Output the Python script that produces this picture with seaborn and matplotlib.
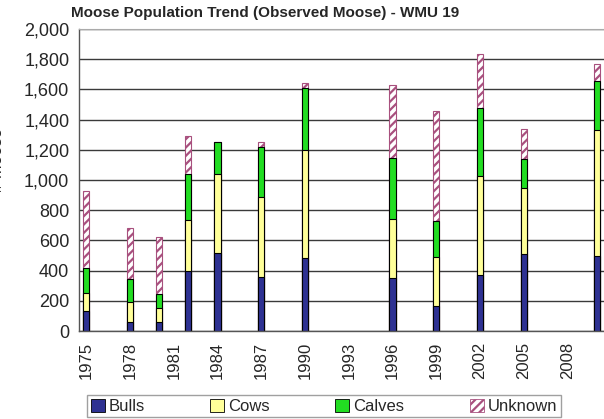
import numpy as np
import pandas as pd
import matplotlib
matplotlib.use("Agg")
import matplotlib.pyplot as plt
import matplotlib.patches as mpatches
import seaborn as sns

# Observed moose by survey year (WMU 19)
years = [1975, 1978, 1980, 1982, 1984, 1987, 1990, 1996, 1999, 2002, 2005, 2010]
bulls = [132, 62, 58, 399, 518, 355, 485, 353, 168, 371, 510, 499]
cows = [122, 132, 92, 336, 521, 534, 713, 388, 324, 653, 439, 830]
calves = [165, 148, 95, 306, 214, 331, 408, 402, 238, 454, 187, 326]
unknown = [508, 338, 375, 252, 0, 33, 37, 485, 728, 354, 199, 110]

all_years = [str(y) for y in range(1975, 2011)]
tick_years = all_years[::3]

sns.set_style("white")
plt.rcParams["font.family"] = ["Liberation Sans", "DejaVu Sans"]
plt.rcParams["hatch.linewidth"] = 1.6

df = pd.DataFrame({"year": [str(y) for y in years],
                   "bulls": bulls, "cows": cows, "calves": calves, "unknown": unknown})
df["l1"] = df["bulls"]
df["l2"] = df["l1"] + df["cows"]
df["l3"] = df["l2"] + df["calves"]
df["l4"] = df["l3"] + df["unknown"]

c_bulls = "#2E3192"
c_cows = "#FFFF99"
c_calves = "#22DD22"
c_unk = "#A8507E"

fig = plt.figure(figsize=(6.04, 4.19), dpi=100)
ax = fig.add_axes([79 / 604, 1 - 331 / 419, 1 - 79 / 604, (331 - 29) / 419])

w = 0.42
sns.barplot(data=df, x="year", y="l4", order=all_years, color="white", saturation=1,
            edgecolor=c_unk, hatch="////", linewidth=0.8, width=w, errorbar=None, ax=ax)
sns.barplot(data=df, x="year", y="l3", order=all_years, color=c_calves, saturation=1,
            edgecolor="black", linewidth=0.8, width=w, errorbar=None, ax=ax)
sns.barplot(data=df, x="year", y="l2", order=all_years, color=c_cows, saturation=1,
            edgecolor="black", linewidth=0.8, width=w, errorbar=None, ax=ax)
sns.barplot(data=df, x="year", y="l1", order=all_years, color=c_bulls, saturation=1,
            edgecolor="black", linewidth=0.8, width=w, errorbar=None, ax=ax)

ax.set_xlim(-0.5, len(all_years) - 0.5)
ax.set_ylim(0, 2000)
ax.set_yticks(range(0, 2001, 200))
ax.set_yticklabels([f"{v:,}" for v in range(0, 2001, 200)], fontsize=13)
ax.yaxis.grid(True, color="#3a3a3a", linewidth=1)
ax.set_axisbelow(True)

ax.set_xticks(range(0, len(all_years), 3))
ax.set_xticklabels(tick_years, rotation=90, fontsize=12)
ax.set_xticks(np.arange(-0.5, len(all_years), 1), minor=True)
ax.tick_params(axis="x", which="major", length=0, pad=8)
ax.tick_params(axis="x", which="minor", direction="out", length=4, width=1, color="#555555")
ax.tick_params(axis="y", direction="out", length=5, width=1, color="#555555", pad=2)
ax.set_xlabel("")
ax.set_ylabel("")

for s in ["left", "bottom"]:
    ax.spines[s].set_color("#555555")
    ax.spines[s].set_linewidth(1)
ax.spines["top"].set_color("#aaaaaa")
ax.spines["right"].set_visible(False)

fig.text(265 / 604, 1 - 13 / 419, "Moose Population Trend (Observed Moose) - WMU 19",
         ha="center", va="center", fontsize=11, fontweight="bold")
fig.text(-2 / 604, 1 - 160 / 419, "# Moose", rotation=90, ha="center", va="center", fontsize=12)

handles = [
    mpatches.Patch(facecolor=c_bulls, edgecolor="black", linewidth=0.6, label="Bulls"),
    mpatches.Patch(facecolor=c_cows, edgecolor="black", linewidth=0.6, label="Cows"),
    mpatches.Patch(facecolor=c_calves, edgecolor="black", linewidth=0.6, label="Calves"),
    mpatches.Patch(facecolor="white", edgecolor=c_unk, hatch="////", linewidth=0.6, label="Unknown"),
]
leg = fig.legend(handles=handles, loc="upper center", bbox_to_anchor=(324 / 604, 1 - 387 / 419),
                 ncol=4, fontsize=12, frameon=True, fancybox=False, edgecolor="#888888",
                 handlelength=0.85, handleheight=0.85, handletextpad=0.25, columnspacing=3.9,
                 borderpad=0.2)
leg.get_frame().set_linewidth(1)

fig.savefig("out.png", dpi=100)
